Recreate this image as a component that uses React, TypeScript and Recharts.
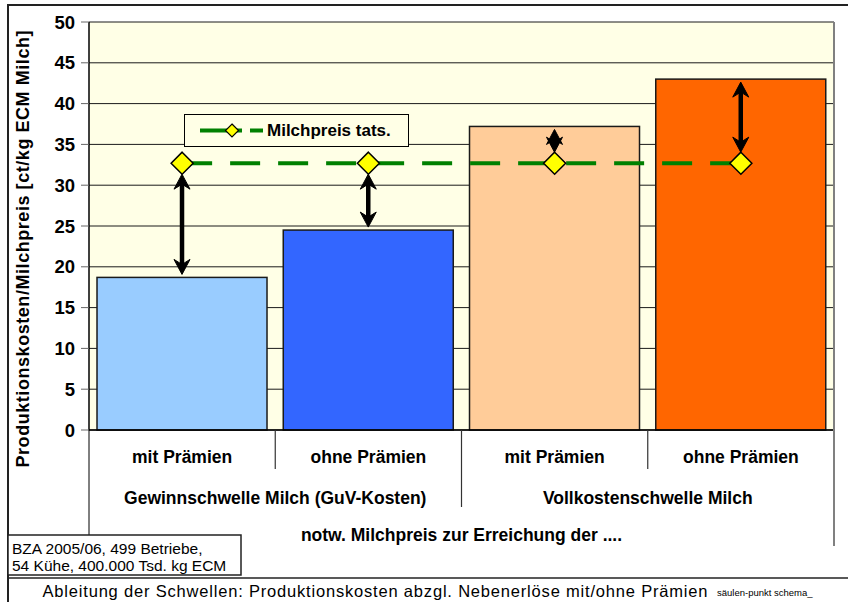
import React from "react";
import {
  ComposedChart,
  Bar,
  Line,
  XAxis,
  YAxis,
  CartesianGrid,
  Legend,
  Cell,
} from "recharts";

// chart data
const categories = ["mit Prämien", "ohne Prämien", "mit Prämien", "ohne Prämien"];
const groups = [
  "Gewinnschwelle Milch (GuV-Kosten)",
  "Gewinnschwelle Milch (GuV-Kosten)",
  "Vollkostenschwelle Milch",
  "Vollkostenschwelle Milch",
];
const costs = [18.7, 24.5, 37.2, 43.0];
const milkPrice = [32.7, 32.7, 32.7, 32.7];
const yTicks = [0, 5, 10, 15, 20, 25, 30, 35, 40, 45, 50];
const barColors = ["#99CCFF", "#3366FF", "#FFCC99", "#FF6600"];

const SERIES_NAME = "Milchpreis tats.";
const Y_TITLE = "Produktionskosten/Milchpreis [ct/kg ECM Milch]";
const AXIS_TITLE = "notw. Milchpreis zur Erreichung der ....";
const SOURCE_LINES = ["BZA 2005/06, 499 Betriebe,", "54 Kühe, 400.000 Tsd. kg ECM"];
const FOOTER = "Ableitung der Schwellen: Produktionskosten abzgl. Nebenerlöse mit/ohne Prämien";
const FILE_TAG = "säulen-punkt schema_";

const data = categories.map((cat, i) => ({
  cat,
  group: groups[i],
  cost: costs[i],
  price: milkPrice[i],
}));

// layout
const W = 848;
const H = 602;
const PLOT_LEFT = 89;
const PLOT_RIGHT = 834;
const PLOT_TOP = 22;
const PLOT_BOTTOM = 430;
const PLOT_H = PLOT_BOTTOM - PLOT_TOP;
const Y_AXIS_W = 60;
const X_AXIS_H = 40;
const CAT_HALF = (PLOT_RIGHT - PLOT_LEFT) / categories.length / 2;
const FONT = "'Liberation Sans', Arial, sans-serif";
const PLOT_BG = "#FFFFE6";
const GREEN = "#008000";

const diamondPath = (cx: number, cy: number, r: number) =>
  `M${cx},${cy - r}L${cx + r},${cy}L${cx},${cy + r}L${cx - r},${cy}Z`;

const arrowHead = (x: number, tipY: number, dir: number) =>
  `M${x},${tipY}L${x + 8},${tipY + dir * 15}L${x},${tipY + dir * 10}L${x - 8},${tipY + dir * 15}Z`;

// bar with the double arrow between bar top and milk price
const BarWithArrow = (props: any) => {
  const { x, y, width, height, fill, payload } = props;
  const base = y + height;
  const pxPerUnit = height / payload.cost;
  const priceY = base - payload.price * pxPerUnit;
  const cx = x + width / 2;
  const up = priceY < y;
  const barEnd = up ? y - 3 : y + 3;
  const priceEnd = up ? priceY + 11 : priceY - 11;
  const top = Math.min(barEnd, priceEnd);
  const bottom = Math.max(barEnd, priceEnd);
  return (
    <g>
      <rect x={x} y={y} width={width} height={height} fill={fill} stroke="#1a1a1a" strokeWidth={1.5} />
      <line x1={cx} x2={cx} y1={top + 8} y2={bottom - 8} stroke="#000" strokeWidth={4.5} />
      <path d={arrowHead(cx, top, 1)} fill="#000" stroke="#000" strokeWidth={1} />
      <path d={arrowHead(cx, bottom, -1)} fill="#000" stroke="#000" strokeWidth={1} />
    </g>
  );
};

const PriceDot = (props: any) => {
  const { cx, cy, index } = props;
  return (
    <path
      key={`dot-${index}`}
      d={diamondPath(cx, cy, 11)}
      fill="#FFFF00"
      stroke="#000"
      strokeWidth={1.5}
    />
  );
};

const CategoryTick = (props: any) => {
  const { x, y, payload, index } = props;
  const last = categories.length - 1;
  const sepX = x + CAT_HALF;
  return (
    <g>
      <text x={x} y={y + 33} textAnchor="middle" fontWeight="bold" fontSize={17.5} fill="#000">
        {payload.value}
      </text>
      {index === 0 && (
        <line x1={x - CAT_HALF} x2={x - CAT_HALF} y1={y} y2={y + 106} stroke="#000" strokeWidth={1} />
      )}
      {index < last && (
        <line
          x1={sepX}
          x2={sepX}
          y1={y}
          y2={index % 2 === 1 ? y + 77 : y + 39}
          stroke="#333"
          strokeWidth={1.2}
        />
      )}
      {index % 2 === 0 && (
        <text x={sepX} y={y + 74} textAnchor="middle" fontWeight="bold" fontSize={17.5} fill="#000">
          {groups[index]}
        </text>
      )}
      {index === 1 && (
        <text x={sepX} y={y + 111} textAnchor="middle" fontWeight="bold" fontSize={17.5} fill="#000">
          {AXIS_TITLE}
        </text>
      )}
      {index === last && (
        <line x1={sepX} x2={sepX} y1={y - PLOT_H} y2={y + 116} stroke="#808080" strokeWidth={2} />
      )}
    </g>
  );
};

const LegendBox = () => (
  <div
    style={{
      width: 225,
      height: 33,
      boxSizing: "border-box",
      border: "1px solid #000",
      background: PLOT_BG,
      display: "flex",
      alignItems: "center",
      fontFamily: FONT,
    }}
  >
    <svg width={82} height={31} style={{ display: "block" }}>
      <line x1={15} x2={78} y1={15.5} y2={15.5} stroke={GREEN} strokeWidth={4} strokeDasharray="42 8 13" />
      <path d={diamondPath(47, 15.5, 6.5)} fill="#FFFF00" stroke="#000" strokeWidth={1.2} />
    </svg>
    <span style={{ fontWeight: "bold", fontSize: 17, color: "#000" }}>{SERIES_NAME}</span>
  </div>
);

export default function App() {
  return (
    <div
      style={{
        position: "absolute",
        left: 0,
        top: 0,
        width: W,
        height: H,
        background: "#fff",
        fontFamily: FONT,
      }}
    >
      <ComposedChart
        width={W}
        height={H}
        data={data}
        margin={{
          top: PLOT_TOP,
          right: W - PLOT_RIGHT,
          left: PLOT_LEFT - Y_AXIS_W,
          bottom: H - PLOT_BOTTOM - X_AXIS_H,
        }}
        barCategoryGap="4.3%"
      >
        <CartesianGrid vertical={false} stroke="#1a1a1a" strokeWidth={1} fill={PLOT_BG} fillOpacity={1} />
        <XAxis
          dataKey="cat"
          height={X_AXIS_H}
          interval={0}
          tickLine={false}
          tickSize={0}
          tickMargin={0}
          axisLine={{ stroke: "#000", strokeWidth: 1.5 }}
          tick={(p: any) => <CategoryTick {...p} />}
        />
        <YAxis
          type="number"
          width={Y_AXIS_W}
          domain={[0, 50]}
          ticks={yTicks}
          interval={0}
          tickSize={8}
          tickMargin={6}
          axisLine={{ stroke: "#000", strokeWidth: 1.5 }}
          tickLine={{ stroke: "#666" }}
          tick={{ fontSize: 18.5, fontWeight: "bold", fill: "#000" }}
        />
        <Legend
          layout="horizontal"
          verticalAlign="middle"
          align="center"
          content={() => <LegendBox />}
          wrapperStyle={{ position: "absolute", left: 184, top: 114, width: 225, height: 33 }}
        />
        <Bar dataKey="cost" shape={(p: any) => <BarWithArrow {...p} />} isAnimationActive={false}>
          {data.map((d, i) => (
            <Cell key={`c-${i}`} fill={barColors[i]} />
          ))}
        </Bar>
        <Line
          dataKey="price"
          name={SERIES_NAME}
          type="linear"
          stroke={GREEN}
          strokeWidth={4}
          strokeDasharray="30 18"
          dot={(p: any) => <PriceDot {...p} />}
          activeDot={false}
          isAnimationActive={false}
        />
      </ComposedChart>
      <svg
        width={W}
        height={H}
        style={{ position: "absolute", left: 0, top: 0, pointerEvents: "none" }}
      >
        <line x1={8} x2={W} y1={5} y2={5} stroke="#222" strokeWidth={2} />
        <line x1={8} x2={8} y1={4} y2={H} stroke="#222" strokeWidth={2} />
        <line x1={8} x2={W} y1={578} y2={578} stroke="#222" strokeWidth={1.5} />
        <text
          transform="translate(29, 249) rotate(-90)"
          textAnchor="middle"
          fontWeight="bold"
          fontSize={18}
          textLength={437}
          lengthAdjust="spacing"
          fill="#000"
        >
          {Y_TITLE}
        </text>
        <rect x={8} y={535} width={233} height={40} fill="#fff" stroke="#222" strokeWidth={1.5} />
        {SOURCE_LINES.map((t, i) => (
          <text key={t} x={12} y={554 + i * 17} fontSize={15.5} fill="#000">
            {t}
          </text>
        ))}
        <text x={375} y={597} textAnchor="middle" fontSize={16.5} textLength={665} lengthAdjust="spacing" fill="#000">
          {FOOTER}
        </text>
        <text x={717} y={596} fontSize={9.5} fill="#000">
          {FILE_TAG}
        </text>
      </svg>
    </div>
  );
}
